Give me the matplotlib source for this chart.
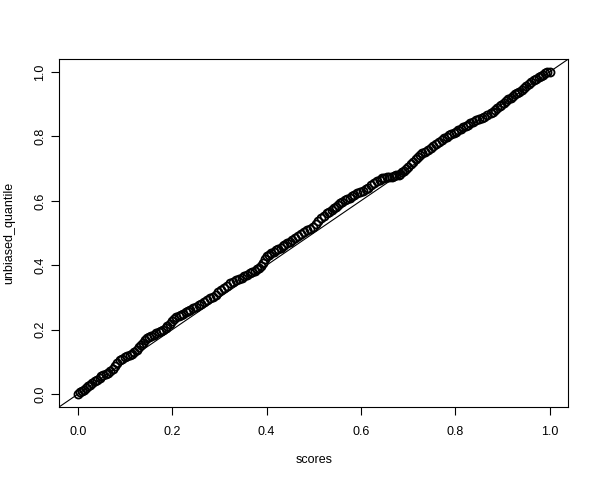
import matplotlib
matplotlib.use("Agg")
import matplotlib.pyplot as plt

plt.rcParams['font.family'] = ['Liberation Sans', 'DejaVu Sans']

# sorted scores vs unbiased quantile
scores = [
    0.000, 0.004, 0.008, 0.012, 0.017, 0.021, 0.026, 0.031, 0.036, 0.041, 0.046, 0.050, 0.054,
    0.059, 0.064, 0.069, 0.074, 0.079, 0.084, 0.089,
    0.094, 0.099, 0.104, 0.110, 0.115, 0.120, 0.125,
    0.130, 0.134, 0.138, 0.142, 0.146,
    0.151, 0.156, 0.161, 0.166, 0.171, 0.176, 0.181,
    0.186, 0.190, 0.195, 0.200, 0.204, 0.209,
    0.214, 0.219, 0.224, 0.229, 0.234, 0.238,
    0.244, 0.250, 0.256, 0.262, 0.268, 0.274, 0.280,
    0.286, 0.292, 0.298, 0.304, 0.310, 0.316, 0.323,
    0.329, 0.335, 0.341, 0.347, 0.353, 0.359, 0.365,
    0.370, 0.375, 0.380, 0.385, 0.389, 0.393,
    0.397, 0.401, 0.405, 0.410, 0.415,
    0.420, 0.425, 0.430, 0.434, 0.438, 0.443,
    0.449, 0.455, 0.461, 0.467, 0.473, 0.479, 0.486,
    0.492, 0.498, 0.504, 0.510, 0.516, 0.522, 0.528,
    0.533, 0.538, 0.543, 0.547, 0.552, 0.556,
    0.561, 0.566, 0.571, 0.576, 0.581, 0.586, 0.592,
    0.598, 0.604, 0.610, 0.616, 0.622, 0.628, 0.634, 0.640, 0.645,
    0.650, 0.655, 0.660, 0.665, 0.670, 0.675, 0.680,
    0.684, 0.688, 0.692, 0.696, 0.701,
    0.706, 0.711, 0.716, 0.721, 0.726, 0.730,
    0.736, 0.742, 0.748, 0.754, 0.760, 0.766, 0.772,
    0.777, 0.782, 0.787, 0.792, 0.797, 0.802, 0.807,
    0.812, 0.817, 0.822, 0.827, 0.832,
    0.838, 0.844, 0.850, 0.856, 0.862, 0.868, 0.875,
    0.880, 0.885, 0.889, 0.894, 0.898, 0.903,
    0.908, 0.913, 0.918, 0.922, 0.927, 0.931,
    0.936, 0.941, 0.946, 0.951, 0.956, 0.961, 0.967,
    0.972, 0.977, 0.982, 0.987, 0.991, 0.995, 1.000,
]
unbiased_quantile = [
    0.000, 0.006, 0.010, 0.014, 0.020, 0.025, 0.029, 0.034, 0.040, 0.045, 0.050, 0.055, 0.059,
    0.062, 0.066, 0.071, 0.077, 0.086, 0.096, 0.106,
    0.110, 0.114, 0.118, 0.122, 0.126, 0.131, 0.137,
    0.145, 0.153, 0.160, 0.167, 0.173,
    0.177, 0.181, 0.185, 0.189, 0.193, 0.196, 0.199,
    0.205, 0.212, 0.219, 0.226, 0.233, 0.240,
    0.244, 0.247, 0.250, 0.254, 0.258, 0.261,
    0.266, 0.271, 0.276, 0.281, 0.286, 0.291, 0.297,
    0.303, 0.309, 0.316, 0.323, 0.330, 0.337, 0.344,
    0.349, 0.353, 0.357, 0.361, 0.366, 0.371, 0.375,
    0.379, 0.383, 0.388, 0.393, 0.399, 0.406,
    0.418, 0.428, 0.433, 0.438, 0.442,
    0.446, 0.450, 0.454, 0.459, 0.464, 0.468,
    0.473, 0.479, 0.484, 0.490, 0.496, 0.502, 0.509,
    0.514, 0.520, 0.528, 0.537, 0.546, 0.554, 0.561,
    0.566, 0.571, 0.577, 0.582, 0.587, 0.592,
    0.597, 0.601, 0.605, 0.609, 0.614, 0.618, 0.623,
    0.627, 0.631, 0.636, 0.641, 0.648, 0.655, 0.661, 0.666, 0.670,
    0.672, 0.673, 0.674, 0.675, 0.677, 0.679, 0.680,
    0.684, 0.689, 0.694, 0.700, 0.706,
    0.714, 0.722, 0.729, 0.736, 0.742, 0.747,
    0.753, 0.759, 0.765, 0.771, 0.777, 0.783, 0.789,
    0.794, 0.799, 0.803, 0.807, 0.811, 0.815, 0.820,
    0.824, 0.828, 0.832, 0.836, 0.841,
    0.846, 0.850, 0.854, 0.857, 0.861, 0.866, 0.872,
    0.877, 0.883, 0.888, 0.893, 0.898, 0.903,
    0.909, 0.915, 0.920, 0.925, 0.930, 0.934,
    0.939, 0.945, 0.951, 0.956, 0.962, 0.969, 0.975,
    0.979, 0.983, 0.987, 0.991, 0.996, 1.000, 1.000,
]
ticks = [0.0, 0.2, 0.4, 0.6, 0.8, 1.0]
tick_labels = ['0.0', '0.2', '0.4', '0.6', '0.8', '1.0']

fig = plt.figure(figsize=(6, 4.8), dpi=100)
ax = fig.add_axes([0.0983, 0.152, 0.849, 0.725])

ax.plot(scores, unbiased_quantile, linestyle='none', marker='o', markersize=5.8,
        markerfacecolor='none', markeredgecolor='black', markeredgewidth=1.3)
ax.axline((0, 0), (1, 1), color='black', lw=0.8)

ax.set_xlim(-0.04, 1.04)
ax.set_ylim(-0.04, 1.04)
ax.set_xticks(ticks)
ax.set_xticklabels(tick_labels)
ax.set_yticks(ticks)
ax.set_yticklabels(tick_labels, rotation=90, va='center')
ax.tick_params(direction='out', length=6, width=0.8, labelsize=9)
ax.tick_params(axis='x', pad=8)
ax.tick_params(axis='y', pad=3)
for s in ax.spines.values():
    s.set_linewidth(0.8)

ax.set_xlabel('scores', fontsize=9, labelpad=11)
ax.set_ylabel('unbiased_quantile', fontsize=9, labelpad=14)

fig.savefig('out.png', dpi=100)
